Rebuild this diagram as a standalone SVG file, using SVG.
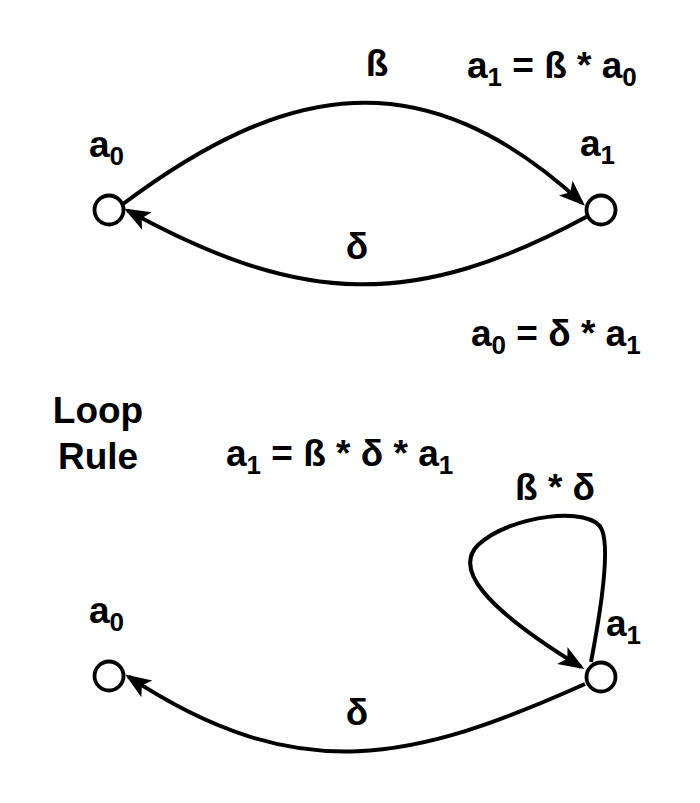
<svg xmlns="http://www.w3.org/2000/svg" width="700" height="803" viewBox="0 0 700 803">
  <defs>
    <style>
      text { font-family: "Liberation Sans", Arial, sans-serif; font-weight: bold; font-size: 37px; fill: #000; }
      .sub { font-size: 26px; }
      .node { fill: #fff; stroke: #000; stroke-width: 3.8; }
      .edge { fill: none; stroke: #000; stroke-width: 4; }
    </style>
    <marker id="arr" markerUnits="userSpaceOnUse" viewBox="0 0 26 22" markerWidth="26" markerHeight="22" refX="22" refY="11" orient="auto">
      <path d="M0,1 L26,11 L0,21 L6,11 z" fill="#000"/>
    </marker>
  </defs>
  <rect width="700" height="803" fill="#fff"/>

  <g id="connectors">
    <path class="edge" d="M123,204 C286,82 423,57 582,203" marker-end="url(#arr)"/>
    <path class="edge" d="M588,216 C414,310 301.6,306 127.6,210.5" marker-end="url(#arr)"/>
    <path class="edge" d="M585,684 C415,760 299.5,789.6 128.5,676.7" marker-end="url(#arr)"/>
    <path class="edge" d="M591,662 C600,615 610,550 602,530 C592,505 510,515 478,545 C455,568 480,605 581,667" marker-end="url(#arr)"/>
    <text x="377" y="76" text-anchor="middle">ß</text>
    <text x="357" y="259" text-anchor="middle">δ</text>
    <text x="357" y="725" text-anchor="middle">δ</text>
    <text x="555" y="500" text-anchor="middle">ß * δ</text>
  </g>

  <g id="node-a0-top">
    <circle class="node" cx="109" cy="210" r="14.5"/>
    <text x="89" y="157">a<tspan class="sub" dy="8">0</tspan></text>
  </g>
  <g id="node-a1-top">
    <circle class="node" cx="601" cy="210" r="14.5"/>
    <text x="580" y="156">a<tspan class="sub" dy="8">1</tspan></text>
  </g>
  <g id="node-a0-bottom">
    <circle class="node" cx="109" cy="676" r="14.5"/>
    <text x="89" y="623">a<tspan class="sub" dy="8">0</tspan></text>
  </g>
  <g id="node-a1-bottom">
    <circle class="node" cx="601" cy="677" r="14.5"/>
    <text x="606" y="636">a<tspan class="sub" dy="8">1</tspan></text>
  </g>

  <g id="equations">
    <text x="467" y="78">a<tspan class="sub" dy="8">1</tspan><tspan dy="-8"> = ß * a</tspan><tspan class="sub" dy="8">0</tspan></text>
    <text x="471" y="346">a<tspan class="sub" dy="8">0</tspan><tspan dy="-8"> = δ * a</tspan><tspan class="sub" dy="8">1</tspan></text>
    <text x="226" y="466">a<tspan class="sub" dy="8">1</tspan><tspan dy="-8"> = ß * δ * a</tspan><tspan class="sub" dy="8">1</tspan></text>
    <text x="98" y="423" text-anchor="middle">Loop</text>
    <text x="98" y="469" text-anchor="middle">Rule</text>
  </g>
</svg>
